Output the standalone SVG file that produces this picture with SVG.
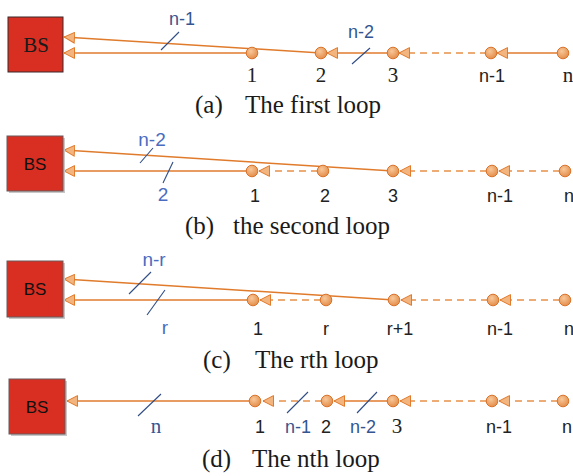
<svg xmlns="http://www.w3.org/2000/svg" width="573" height="476" viewBox="0 0 573 476">
<style>
.bg{fill:#ffffff}
.box{fill:#d92e22;stroke:#3a2a2a;stroke-width:1}
.box2{fill:#d92e22;stroke:#6a5a5a;stroke-width:1}
.shadow{fill:#c8c8c8}
.bsS{font-family:"Liberation Serif",serif;font-size:21px;fill:#1a1a1a;text-anchor:middle}
.bs{font-family:"Liberation Sans",Arial,sans-serif;font-size:17px;fill:#111;text-anchor:middle}
.node{fill:url(#ng);stroke:#d9722a;stroke-width:1}
.ln{stroke:#e07b2c;stroke-width:1.5;fill:none}
.dl{stroke:#e8914a;stroke-width:1.7;fill:none;stroke-dasharray:7,5}
.sl{stroke:#2f4c85;stroke-width:1.1}
.lblS{font-family:"Liberation Serif",serif;font-size:21px;fill:#222;text-anchor:middle}
.lbl{font-family:"Liberation Sans",Arial,sans-serif;font-size:18px;fill:#222;text-anchor:middle}
.bl1{font-family:"Liberation Sans",Arial,sans-serif;font-size:18px;fill:#34558f;text-anchor:middle}
.bl2{font-family:"Liberation Sans",Arial,sans-serif;font-size:19px;fill:#4a6cc0;text-anchor:middle}
.blS{font-family:"Liberation Serif",serif;font-size:21px;fill:#34558f;text-anchor:middle}
.cap{font-family:"Liberation Serif",serif;font-size:25px;fill:#1a1a1a}
</style>
<defs>
<radialGradient id="ng" cx="0.4" cy="0.35" r="0.7">
<stop offset="0" stop-color="#f8c89a"/>
<stop offset="1" stop-color="#e38a45"/>
</radialGradient>
<marker id="ar" viewBox="0 0 12 12" refX="11" refY="6" markerWidth="12" markerHeight="12" markerUnits="userSpaceOnUse" orient="auto">
<path d="M0.5,0.6 L11,6 L0.5,11.4 Z" fill="#f2b580" stroke="#e07b2c" stroke-width="1"/>
</marker>
</defs>
<rect class="bg" x="0" y="0" width="573" height="476"/>

<g id="connectors">
<!-- (a) -->
<line class="ln" x1="321" y1="53" x2="64" y2="37" marker-end="url(#ar)"/>
<line class="ln" x1="252" y1="53" x2="64" y2="53" marker-end="url(#ar)"/>
<line class="ln" x1="393" y1="53" x2="327" y2="53" marker-end="url(#ar)"/>
<line class="dl" x1="487" y1="53" x2="410" y2="53"/>
<line class="ln" x1="410" y1="53" x2="399" y2="53" marker-end="url(#ar)"/>
<line class="ln" x1="563" y1="53" x2="497" y2="53" marker-end="url(#ar)"/>
<line class="sl" x1="161" y1="50" x2="179" y2="32"/>
<line class="sl" x1="352" y1="64" x2="370" y2="48"/>
<!-- (b) -->
<line class="ln" x1="393" y1="171" x2="64" y2="150" marker-end="url(#ar)"/>
<line class="ln" x1="252" y1="171" x2="64" y2="171" marker-end="url(#ar)"/>
<line class="dl" x1="318" y1="171" x2="270" y2="171"/>
<line class="ln" x1="270" y1="171" x2="259" y2="171" marker-end="url(#ar)"/>
<line class="dl" x1="487" y1="171" x2="411" y2="171"/>
<line class="ln" x1="411" y1="171" x2="400" y2="171" marker-end="url(#ar)"/>
<line class="dl" x1="560" y1="171" x2="510" y2="171"/>
<line class="ln" x1="510" y1="171" x2="499" y2="171" marker-end="url(#ar)"/>
<line class="sl" x1="140" y1="163" x2="153" y2="148"/>
<line class="sl" x1="163" y1="183" x2="173" y2="162"/>
<!-- (c) -->
<line class="ln" x1="394" y1="300" x2="64" y2="279" marker-end="url(#ar)"/>
<line class="ln" x1="253" y1="300" x2="64" y2="300" marker-end="url(#ar)"/>
<line class="dl" x1="321" y1="300" x2="271" y2="300"/>
<line class="ln" x1="271" y1="300" x2="260" y2="300" marker-end="url(#ar)"/>
<line class="dl" x1="488" y1="300" x2="412" y2="300"/>
<line class="ln" x1="412" y1="300" x2="401" y2="300" marker-end="url(#ar)"/>
<line class="dl" x1="560" y1="300" x2="511" y2="300"/>
<line class="ln" x1="511" y1="300" x2="500" y2="300" marker-end="url(#ar)"/>
<line class="sl" x1="129" y1="294" x2="151" y2="272"/>
<line class="sl" x1="147" y1="315" x2="165" y2="290"/>
<!-- (d) -->
<line class="ln" x1="255" y1="401" x2="67" y2="401" marker-end="url(#ar)"/>
<line class="dl" x1="322" y1="401" x2="274" y2="401"/>
<line class="ln" x1="274" y1="401" x2="263" y2="401" marker-end="url(#ar)"/>
<line class="ln" x1="393" y1="401" x2="334" y2="401" marker-end="url(#ar)"/>
<line class="dl" x1="487" y1="401" x2="411" y2="401"/>
<line class="ln" x1="411" y1="401" x2="400" y2="401" marker-end="url(#ar)"/>
<line class="dl" x1="558" y1="401" x2="510" y2="401"/>
<line class="ln" x1="510" y1="401" x2="499" y2="401" marker-end="url(#ar)"/>
<line class="sl" x1="138" y1="416" x2="161" y2="394"/>
<line class="sl" x1="287" y1="413" x2="308" y2="392"/>
<line class="sl" x1="357" y1="413" x2="377" y2="392"/>
</g>

<g id="edge-labels">
<text class="bl1" x="182" y="25">n-1</text>
<text class="bl1" x="361" y="38">n-2</text>
<text class="bl2" x="152" y="146">n-2</text>
<text class="bl2" x="163" y="201">2</text>
<text class="bl2" x="154" y="266">n-r</text>
<text class="bl2" x="165" y="334">r</text>
<text class="blS" x="156" y="433">n</text>
<text class="bl1" x="298" y="433">n-1</text>
<text class="bl1" x="363" y="433">n-2</text>
</g>

<!-- (a) nodes -->
<g id="a-bs"><rect class="box" x="8" y="17" width="55" height="55"/><text class="bsS" x="36" y="52">BS</text></g>
<g id="a-n1"><circle class="node" cx="252" cy="53" r="5.8"/><text class="lblS" x="252" y="82">1</text></g>
<g id="a-n2"><circle class="node" cx="321" cy="53" r="5.8"/><text class="lblS" x="321" y="82">2</text></g>
<g id="a-n3"><circle class="node" cx="393" cy="53" r="5.8"/><text class="lblS" x="393" y="82">3</text></g>
<g id="a-nm1"><circle class="node" cx="491" cy="53" r="5.8"/><text class="lbl" x="492" y="82">n-1</text></g>
<g id="a-nn"><circle class="node" cx="563" cy="53" r="5.8"/><text class="lblS" x="568" y="82">n</text></g>
<text class="cap" x="195" y="113">(a)</text>
<text class="cap" x="245" y="113">The first loop</text>

<!-- (b) nodes -->
<g id="b-bs"><rect class="shadow" x="9" y="138" width="56" height="55"/><rect class="box2" x="7" y="136" width="56" height="55"/><text class="bs" x="35" y="170">BS</text></g>
<g id="b-n1"><circle class="node" cx="252" cy="171" r="5.8"/><text class="lbl" x="255" y="202">1</text></g>
<g id="b-n2"><circle class="node" cx="323" cy="171" r="5.8"/><text class="lbl" x="325" y="202">2</text></g>
<g id="b-n3"><circle class="node" cx="393" cy="171" r="5.8"/><text class="lbl" x="393" y="202">3</text></g>
<g id="b-nm1"><circle class="node" cx="492" cy="171" r="5.8"/><text class="lbl" x="500" y="202">n-1</text></g>
<g id="b-nn"><circle class="node" cx="565" cy="171" r="5.8"/><text class="lbl" x="569" y="202">n</text></g>
<text class="cap" x="185" y="234">(b)</text>
<text class="cap" x="233" y="234">the second loop</text>

<!-- (c) nodes -->
<g id="c-bs"><rect class="shadow" x="9" y="263" width="56" height="56"/><rect class="box2" x="7" y="261" width="56" height="56"/><text class="bs" x="35" y="295">BS</text></g>
<g id="c-n1"><circle class="node" cx="253" cy="300" r="5.8"/><text class="lbl" x="258" y="335">1</text></g>
<g id="c-nr"><circle class="node" cx="326" cy="300" r="5.8"/><text class="lbl" x="326" y="335">r</text></g>
<g id="c-nr1"><circle class="node" cx="394" cy="300" r="5.8"/><text class="lbl" x="400" y="335">r+1</text></g>
<g id="c-nm1"><circle class="node" cx="493" cy="300" r="5.8"/><text class="lbl" x="500" y="335">n-1</text></g>
<g id="c-nn"><circle class="node" cx="565" cy="300" r="5.8"/><text class="lbl" x="569" y="335">n</text></g>
<text class="cap" x="203" y="368">(c)</text>
<text class="cap" x="255" y="368">The rth loop</text>

<!-- (d) nodes -->
<g id="d-bs"><rect class="shadow" x="11" y="381" width="56" height="55"/><rect class="box2" x="9" y="379" width="56" height="55"/><text class="bs" x="37" y="413">BS</text></g>
<g id="d-n1"><circle class="node" cx="255" cy="401" r="5.8"/><text class="lbl" x="260" y="433">1</text></g>
<g id="d-n2"><circle class="node" cx="327" cy="401" r="5.8"/><text class="lbl" x="326" y="433">2</text></g>
<g id="d-n3"><circle class="node" cx="393" cy="401" r="5.8"/><text class="lblS" x="397" y="433">3</text></g>
<g id="d-nm1"><circle class="node" cx="492" cy="401" r="5.8"/><text class="lbl" x="499" y="433">n-1</text></g>
<g id="d-nn"><circle class="node" cx="563" cy="401" r="5.8"/><text class="lbl" x="567" y="433">n</text></g>
<text class="cap" x="202" y="467">(d)</text>
<text class="cap" x="252" y="467">The nth loop</text>
</svg>
